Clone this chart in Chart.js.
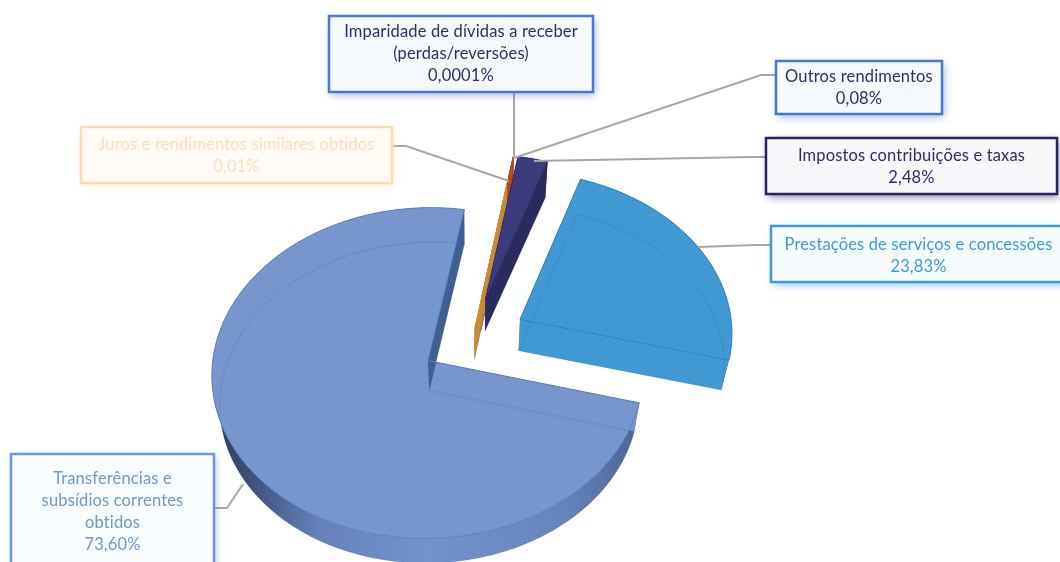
<!DOCTYPE html>
<html>
<head>
<meta charset="utf-8">
<style>
  html, body { margin: 0; padding: 0; background: #fff; }
  canvas { display: block; }
</style>
</head>
<body>
<canvas id="myChart" width="1060" height="562"></canvas>
<script src="https://cdn.jsdelivr.net/npm/chart.js@4"></script>
<script>
const categories = [
  "Transferências e subsídios correntes obtidos",
  "Juros e rendimentos similares obtidos",
  "Imparidade de dívidas a receber (perdas/reversões)",
  "Outros rendimentos",
  "Impostos contribuições e taxas",
  "Prestações de serviços e concessões",
];
const shares = [73.6, 0.01, 0.0001, 0.08, 2.48, 23.83];
const shareLabels = ["73,60%", "0,01%", "0,0001%", "0,08%", "2,48%", "23,83%"];

const explode = [52, 14, 55, 55, 55, 55];
const topColors = ["#7796ce", "#e2a34f", "#c8551f", "#b8401a", "#3c3b7c", "#4199d3"];
const sideColors = ["#6f8dc4", "#d8963f", "#c8551f", "#a83a18", "#34336e", "#4199d3"];
const wallColors = ["#40608f", "#c98a35", "#b84a1a", "#a83a18", "#2b2a5c", "#4199d3"];
const edgeColors = ["#5a80bf", "#c98a35", "#b84a1a", "#a83a18", "#2f2e68", "#2f80bd"];
const drawOrder = [0, 3, 2, 1, 4, 5];

// fake perspective for the tilted pie
const tilt = 0.757;
const persp = 0.00035;
const depth = 30.6;
const backScale = 0.97;

function project(el, X, Y, low) {
  const f = 1 / (1 - persp * Y);
  const g = low ? backScale : 1;
  return [el.x + X * f * g, el.y + Y * tilt * f * g + (low ? depth : 0)];
}

function slicePoints(el, low) {
  const mid = (el.startAngle + el.endAngle) / 2;
  const off = el.options.offset;
  const ox = Math.cos(mid) * off;
  const oy = Math.sin(mid) * off;
  const arc = [];
  const steps = Math.max(2, Math.ceil((el.endAngle - el.startAngle) * 60));
  for (let i = 0; i <= steps; i++) {
    const a = el.startAngle + ((el.endAngle - el.startAngle) * i) / steps;
    arc.push(project(el, ox + Math.cos(a) * el.outerRadius, oy + Math.sin(a) * el.outerRadius, low));
  }
  return { apex: project(el, ox, oy, low), arc };
}

function tracePath(ctx, pts, close) {
  ctx.beginPath();
  pts.forEach((p, i) => (i ? ctx.lineTo(p[0], p[1]) : ctx.moveTo(p[0], p[1])));
  if (close) ctx.closePath();
}

function sideFill(ctx, i, arc) {
  if (i !== 0) return sideColors[i];
  const xs = arc.map((p) => p[0]);
  const grad = ctx.createLinearGradient(Math.min(...xs), 0, Math.max(...xs), 0);
  grad.addColorStop(0, "#2b3a5e");
  grad.addColorStop(0.08, "#3c4d76");
  grad.addColorStop(0.25, "#6682b8");
  grad.addColorStop(0.5, "#7493cb");
  grad.addColorStop(0.82, "#6885bb");
  grad.addColorStop(1, "#4c6491");
  return grad;
}

const pie3d = {
  id: "pie3d",
  beforeDatasetsDraw(chart) {
    const ctx = chart.ctx;
    const arcs = chart.getDatasetMeta(0).data;
    drawOrder.forEach((i) => {
      const el = arcs[i];
      const up = slicePoints(el, false);
      const low = slicePoints(el, true);
      const n = up.arc.length - 1;
      const thin = shares[i] < 1;

      // outer wall and the front cut
      ctx.fillStyle = sideFill(ctx, i, up.arc);
      tracePath(ctx, up.arc.concat(low.arc.slice().reverse()), true);
      ctx.fill();
      ctx.fillStyle = topColors[i];
      tracePath(ctx, [up.apex, up.arc[0], low.arc[0], low.apex], true);
      ctx.fill();

      // top face
      tracePath(ctx, [up.apex].concat(up.arc), true);
      ctx.fill();

      // cut on the end side of the slice
      ctx.fillStyle = wallColors[i];
      tracePath(ctx, [up.apex, up.arc[n], low.arc[n], low.apex], true);
      ctx.fill();

      // floor seen through the face
      ctx.strokeStyle = "rgba(40,80,150,0.18)";
      ctx.lineWidth = 1;
      tracePath(ctx, [low.arc[n], low.apex, low.arc[0]], false);
      ctx.stroke();
      tracePath(ctx, low.arc, false);
      ctx.stroke();

      if (thin) return;
      ctx.strokeStyle = edgeColors[i];
      tracePath(ctx, [up.apex].concat(up.arc), true);
      ctx.stroke();
    });
    return false;
  },
};

// label boxes: index into categories, box, text lines, leader
const boxes = [
  { i: 2, x: 329, y: 16, w: 264, h: 76, first: 32, color: "#4a78cc", fill: "#f5f9fd", text: "#2f2e68",
    lines: ["Imparidade de dívidas a receber", "(perdas/reversões)"], lead: [[514, 92], [514, 159]] },
  { i: 1, x: 81, y: 127, w: 311, h: 56, first: 145, color: "#f8dcb4", fill: "#fffaf5", text: "#fbdfba",
    lines: ["Juros e rendimentos similares obtidos"], lead: [[392, 146], [406, 146], [509, 181]] },
  { i: 3, x: 776, y: 61, w: 166, h: 53, first: 77, color: "#4a78cc", fill: "#f5f9fd", text: "#2f2e68",
    lines: ["Outros rendimentos"], lead: [[776, 75], [761, 75], [514, 158]] },
  { i: 4, x: 766, y: 138, w: 291, h: 56, first: 156, color: "#25245f", fill: "#f7f7fa", text: "#2f2e68",
    lines: ["Impostos contribuições e taxas"], lead: [[766, 157], [752, 157], [534, 161]] },
  { i: 5, x: 771, y: 226, w: 295, h: 56, first: 245, color: "#3c9cda", fill: "#f6fbfe", text: "#3c9cda",
    lines: ["Prestações de serviços e concessões"], lead: [[771, 245], [755, 245], [698, 247]] },
  { i: 0, x: 11, y: 454, w: 203, h: 130, first: 479, color: "#7096d4", fill: "#f8fbff", text: "#7096d4",
    lines: ["Transferências e", "subsídios correntes", "obtidos"], lead: [[214, 508], [227, 508], [243, 484]] },
];

const calloutBoxes = {
  id: "calloutBoxes",
  afterDraw(chart) {
    const ctx = chart.ctx;
    ctx.save();
    ctx.font = "16.5px Lato";
    ctx.letterSpacing = "0.15px";
    ctx.textAlign = "center";
    ctx.textBaseline = "middle";
    for (const box of boxes) {
      ctx.strokeStyle = "#a6a6a6";
      ctx.lineWidth = 2;
      tracePath(ctx, box.lead, false);
      ctx.stroke();

      ctx.save();
      ctx.shadowColor = box.color + "88";
      ctx.shadowBlur = 8;
      ctx.shadowOffsetX = 2;
      ctx.shadowOffsetY = 3;
      ctx.fillStyle = box.fill;
      ctx.fillRect(box.x, box.y, box.w, box.h);
      ctx.restore();
      ctx.strokeStyle = box.color;
      ctx.lineWidth = 2.5;
      ctx.strokeRect(box.x, box.y, box.w, box.h);

      ctx.fillStyle = box.text;
      const lines = box.lines.concat(shareLabels[box.i]);
      lines.forEach((line, n) => {
        ctx.fillText(line, box.x + box.w / 2, box.first + n * 22);
      });
    }
    ctx.restore();
  },
};

new Chart(document.getElementById("myChart"), {
  type: "pie",
  data: {
    labels: categories,
    datasets: [
      {
        data: shares,
        backgroundColor: topColors,
        borderWidth: 0,
        offset: explode,
      },
    ],
  },
  options: {
    responsive: false,
    animation: false,
    rotation: 104.6,
    radius: 213,
    layout: { padding: { left: 0, right: 116, top: 116, bottom: 0 } },
    plugins: { legend: { display: false }, tooltip: { enabled: false } },
  },
  plugins: [pie3d, calloutBoxes],
});
</script>
</body>
</html>
